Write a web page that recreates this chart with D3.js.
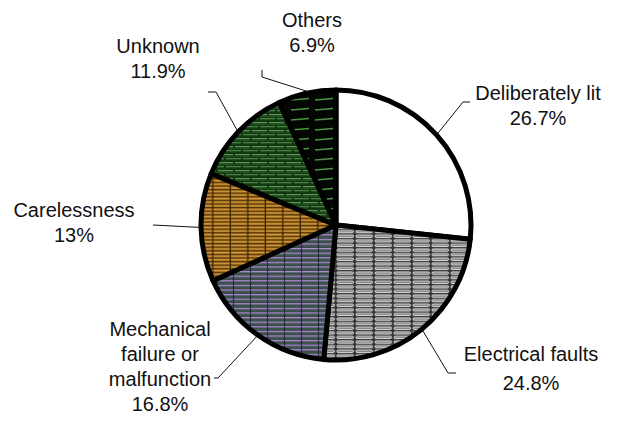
<!DOCTYPE html>
<html><head><meta charset="utf-8">
<script src="https://cdn.jsdelivr.net/npm/d3@7"></script>
<style>body{margin:0;background:#fff}svg{display:block}text{font-family:"Liberation Sans",Arial,sans-serif;font-size:20px;fill:#111}</style>
</head><body>
<svg id="c" width="623" height="434"></svg>
<script>
const categories = ["Deliberately lit","Electrical faults","Mechanical failure or malfunction","Carelessness","Unknown","Others"];
const values = [26.7, 24.8, 16.8, 13, 11.9, 6.9];
const valueLabels = ["26.7%","24.8%","16.8%","13%","11.9%","6.9%"];
const labelLines = [["Deliberately lit"],["Electrical faults"],["Mechanical","failure or","malfunction"],["Carelessness"],["Unknown"],["Others"]];

const svg = d3.select("#c");
const cx = 336, cy = 225, R = 135;
const defs = svg.append("defs");

function pat(id, w, h, bg, draw){
  const p = defs.append("pattern").attr("id", id).attr("patternUnits","userSpaceOnUse")
    .attr("width", w).attr("height", h);
  p.append("rect").attr("width", w).attr("height", h).attr("fill", bg);
  draw(p);
}
// Electrical faults: gray with white-outlined dashes
pat("pElec", 19, 4.6, "#383838", p => {
  p.append("rect").attr("x",1).attr("y",0.9).attr("width",16.5).attr("height",2.3).attr("rx",1.1)
    .attr("fill","#858585").attr("stroke","#e8e8e8").attr("stroke-width",0.9);
});
// Mechanical: purple / dark gray-green rows
pat("pMech", 17, 4.6, "#3c4150", p => {
  p.append("rect").attr("x",0).attr("y",0).attr("width",17).attr("height",1.3).attr("fill","#a890cf");
  p.append("rect").attr("x",1).attr("y",2.4).attr("width",14).attr("height",1.2).attr("fill","#37623f");
  p.append("rect").attr("x",16).attr("y",0).attr("width",1).attr("height",4.6).attr("fill","#2a2e36");
});
// Carelessness: orange rows with brown lines, vertical dividers
pat("pCare", 17.5, 3.6, "#ad741d", p => {
  p.append("rect").attr("x",0).attr("y",0).attr("width",17.5).attr("height",1.2).attr("fill","#523508");
  p.append("rect").attr("x",0).attr("y",2).attr("width",17.5).attr("height",0.9).attr("fill","#dca446");
  p.append("rect").attr("x",16.2).attr("y",0).attr("width",1.5).attr("height",3.6).attr("fill","#382404");
});
// Unknown: dark green with light green dashes (brick)
pat("pUnk", 34, 8, "#133613", p => {
  p.append("rect").attr("x",1).attr("y",1).attr("width",15).attr("height",1.3).attr("fill","#559749");
  p.append("rect").attr("x",18).attr("y",1).attr("width",15).attr("height",1.3).attr("fill","#559749");
  p.append("rect").attr("x",9).attr("y",5).attr("width",15).attr("height",1.3).attr("fill","#47823f");
  p.append("rect").attr("x",26).attr("y",5).attr("width",8).attr("height",1.3).attr("fill","#47823f");
  p.append("rect").attr("x",0).attr("y",5).attr("width",7).attr("height",1.3).attr("fill","#47823f");
  p.append("rect").attr("x",0).attr("y",3).attr("width",34).attr("height",0.8).attr("fill","#255225");
});
// Others: black with sparse green dashes
pat("pOth", 24, 10, "#040604", p => {
  p.append("line").attr("x1",3).attr("y1",5).attr("x2",21).attr("y2",3.5)
    .attr("stroke","#4a9440").attr("stroke-width",1.3);
});
const fills = ["#ffffff","url(#pElec)","url(#pMech)","url(#pCare)","url(#pUnk)","url(#pOth)"];

const data = categories.map((c,i)=>({cat:c, v:values[i], i}));
const pie = d3.pie().value(d=>d.v).sort(null).startAngle(0).endAngle(2*Math.PI);
const arcs = pie(data);
const arc = d3.arc().innerRadius(0).outerRadius(R);
const g = svg.append("g").attr("transform",`translate(${cx},${cy})`);
g.selectAll("path").data(arcs).join("path")
  .attr("d", arc).attr("fill", (d,i)=>fills[i])
  .attr("stroke","#000").attr("stroke-width",5).attr("stroke-linejoin","round");

// label layout (elbow point, end point, text center, first baseline, line spacing)
const layout = [
  {elbow:[127,-123], end:[134,-123], tx:202, ty:-125, lh:25},
  {elbow:[112,148], end:[120,148], tx:195, ty:136, lh:29},
  {elbow:[-118,153], end:[-122,153], tx:-176, ty:111, lh:25},
  {elbow:[-183,0], end:[-183,0], tx:-262, ty:-8, lh:25},
  {elbow:[-120,-133], end:[-128,-133], tx:-178, ty:-172, lh:25},
  {elbow:[-74,-148], end:[-74,-155], tx:-24, ty:-198, lh:25}
];
arcs.forEach((a,i)=>{
  const mid = (a.startAngle+a.endAngle)/2;
  const p0 = [Math.sin(mid)*(R+2), -Math.cos(mid)*(R+2)];
  const L = layout[i];
  g.append("polyline").attr("points",[p0,L.elbow,L.end].map(p=>p.join(",")).join(" "))
    .attr("fill","none").attr("stroke","#111").attr("stroke-width",1);
  const lines = labelLines[i].concat([valueLabels[i]]);
  const t = g.append("text").attr("text-anchor","middle");
  lines.forEach((s,k)=>t.append("tspan").attr("x",L.tx).attr("y",L.ty+k*L.lh).text(s));
});
</script>
</body></html>
